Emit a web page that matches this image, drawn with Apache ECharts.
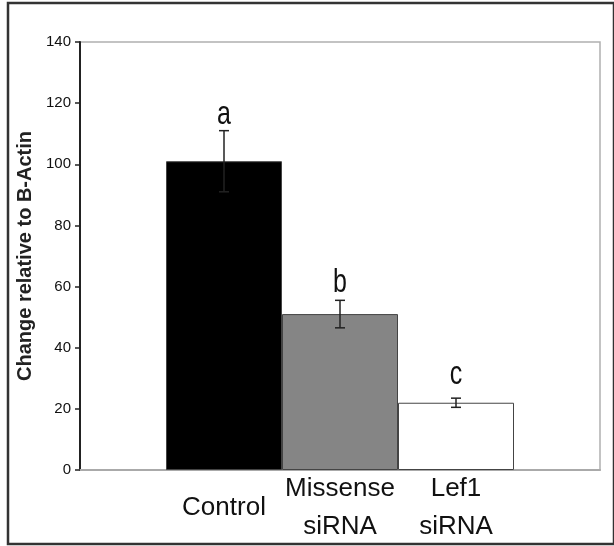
<!DOCTYPE html>
<html>
<head>
<meta charset="utf-8">
<script src="https://cdn.jsdelivr.net/npm/echarts@6/dist/echarts.min.js"></script>
<style>html,body{margin:0;padding:0;background:#fff}#c{width:614px;height:546px}</style>
</head>
<body>
<div id="c"></div>
<script>
var categories = ['Control', 'Missense\nsiRNA', 'Lef1\nsiRNA'];
var values = [101, 51, 22];
var errors = [10, 4.5, 1.5];
var letters = ['a', 'b', 'c'];
var letterY = [116, 61, 31];
var barColors = ['#000000', '#858585', '#ffffff'];
var yTicks = { min: 0, max: 140, interval: 20 };

var sans = '"Liberation Sans", Arial, sans-serif';

var chart = echarts.init(document.getElementById('c'), null, { renderer: 'canvas' });

var barData = values.map(function (v, i) {
  return { value: v, itemStyle: { color: barColors[i], borderColor: '#444', borderWidth: 1 } };
});
var errData = values.map(function (v, i) {
  return [i, v - errors[i], v + errors[i], letterY[i]];
});

chart.setOption({
  animation: false,
  backgroundColor: '#fff',
  graphic: [{
    type: 'rect', shape: { x: 8, y: 3, width: 606, height: 541 },
    style: { fill: null, stroke: '#333', lineWidth: 2.5 }, z: 100
  }],
  grid: [
    { left: 80, right: 14, top: 42, bottom: 76, show: true, borderColor: '#b0b0b0', borderWidth: 1.5 },
    { left: 166, right: 100, top: 42, bottom: 76 }
  ],
  xAxis: [
    { gridIndex: 0, type: 'value', min: 0, max: 1, axisLine: { show: true, lineStyle: { color: '#aaaaaa', width: 2 } },
      axisTick: { show: false }, axisLabel: { show: false }, splitLine: { show: false } },
    { gridIndex: 1, type: 'category', data: categories,
      axisLine: { show: false }, axisTick: { show: false },
      axisLabel: { fontFamily: sans, fontSize: 26, color: '#111', lineHeight: 38, verticalAlign: 'middle', margin: 38, interval: 0 } }
  ],
  yAxis: [
    { gridIndex: 0, type: 'value', min: yTicks.min, max: yTicks.max, interval: yTicks.interval,
      name: 'Change relative to B-Actin', nameLocation: 'middle', nameGap: 42, nameRotate: 90,
      nameTextStyle: { fontFamily: sans, fontWeight: 'bold', fontSize: 20, color: '#222' },
      axisLine: { show: true, lineStyle: { color: '#222', width: 2 } },
      axisTick: { show: true, length: 5, lineStyle: { color: '#222', width: 1.5 } },
      axisLabel: { fontFamily: sans, fontSize: 15, color: '#111', margin: 9 },
      splitLine: { show: false } },
    { gridIndex: 1, type: 'value', min: yTicks.min, max: yTicks.max, interval: yTicks.interval, show: false, splitLine: { show: false } }
  ],
  series: [
    { type: 'bar', xAxisIndex: 1, yAxisIndex: 1, data: barData, barCategoryGap: '0%', z: 2 },
    { type: 'custom', xAxisIndex: 1, yAxisIndex: 1, data: errData, z: 5,
      renderItem: function (params, api) {
        var i = api.value(0);
        var lo = api.coord([i, api.value(1)]);
        var hi = api.coord([i, api.value(2)]);
        var ly = api.coord([i, api.value(3)]);
        var x = lo[0], w = 5;
        var st = { stroke: '#222', lineWidth: 1.5 };
        return { type: 'group', children: [
          { type: 'line', shape: { x1: x, y1: lo[1], x2: x, y2: hi[1] }, style: st },
          { type: 'line', shape: { x1: x - w, y1: lo[1], x2: x + w, y2: lo[1] }, style: st },
          { type: 'line', shape: { x1: x - w, y1: hi[1], x2: x + w, y2: hi[1] }, style: st },
          { type: 'text', x: x, y: ly[1], scaleY: 1.3,
            style: { text: letters[params.dataIndex], x: 0, y: 0, align: 'center', verticalAlign: 'middle',
            font: '25px ' + sans, fill: '#111' } }
        ] };
      } }
  ]
});
</script>
</body>
</html>
